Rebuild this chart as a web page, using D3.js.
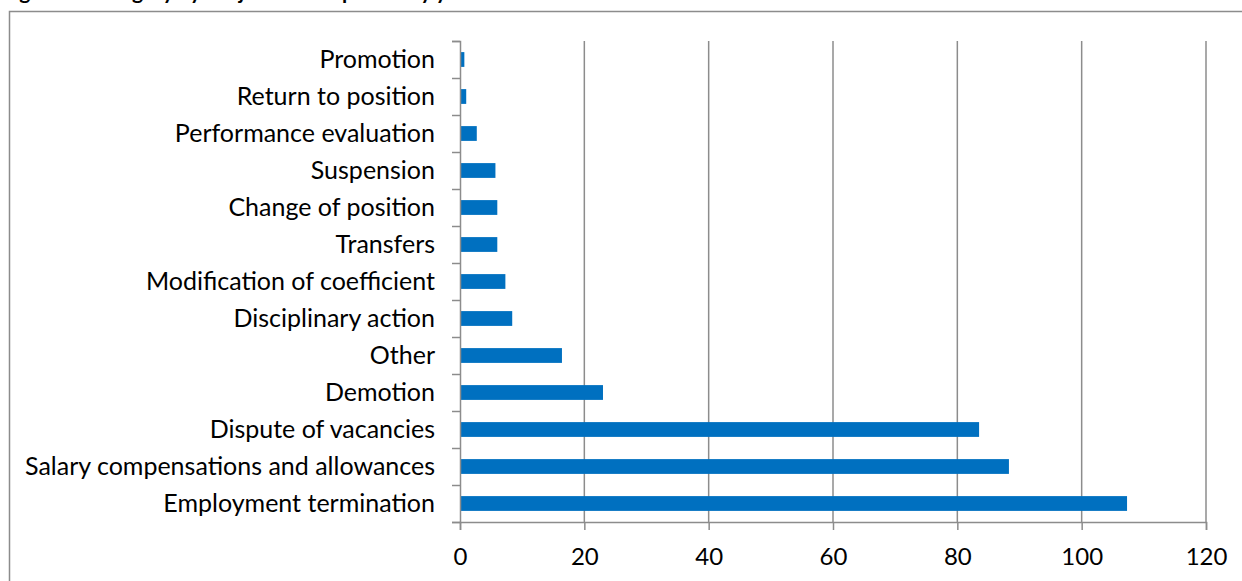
<!DOCTYPE html>
<html>
<head>
<meta charset="utf-8">
<script src="https://cdn.jsdelivr.net/npm/d3@7"></script>
<style>
  body { margin: 0; background: #fff; }
  svg { display: block; }
</style>
</head>
<body>
<div id="chart"></div>
<script>
// data, bottom to top order as listed
const categories = ["Employment termination", "Salary compensations and allowances", "Dispute of vacancies",
    "Demotion", "Other", "Disciplinary action", "Modification of coefficient", "Transfers",
    "Change of position", "Suspension", "Performance evaluation", "Return to position", "Promotion"];
const values = [107.3, 88.3, 83.5, 23, 16.4, 8.4, 7.3, 6, 6, 5.7, 2.7, 1, 0.7];
const xTicks = [0, 20, 40, 60, 80, 100, 120];

const W = 1242, H = 581;
const margin = {top: 41, right: 36, bottom: 59, left: 460};
const width = W - margin.left - margin.right,
    height = H - margin.top - margin.bottom;

const root = d3.select("#chart").append("svg")
    .attr("width", W)
    .attr("height", H);

// title, mostly cut off at the top edge
root.append("text")
    .attr("x", 2).attr("y", -1)
    .style("font", "bold 21px Lato, sans-serif")
    .text("Figure 6: Category by subject of complaints by year");

// chart frame
root.append("rect")
    .attr("x", 9.5).attr("y", 11.5)
    .attr("width", 1300).attr("height", 700)
    .attr("fill", "none")
    .attr("stroke", "#8c8c8c")
    .attr("stroke-width", 1.5);

const svg = root.append("g")
    .attr("transform", `translate(${margin.left},${margin.top})`);

const x = d3.scaleLinear().domain([0, 120]).range([0, width]);
const y = d3.scaleBand()
    .domain(categories.slice().reverse())
    .range([0, height])
    .paddingInner(0.6)
    .paddingOuter(0.3);

// gridlines
svg.append("g")
    .selectAll("line")
    .data(xTicks.slice(1))
    .join("line")
    .attr("x1", d => x(d)).attr("x2", d => x(d))
    .attr("y1", 0).attr("y2", height)
    .attr("stroke", "#8c8c8c")
    .attr("stroke-width", 1.5);

// bars
svg.append("g")
    .selectAll("rect")
    .data(categories.map((c, i) => ({cat: c, v: values[i]})))
    .join("rect")
    .attr("x", x(0))
    .attr("y", d => y(d.cat))
    .attr("width", d => x(d.v) - x(0))
    .attr("height", y.bandwidth())
    .attr("fill", "#0070C0");

// x axis
const xAxis = svg.append("g")
    .attr("transform", `translate(0,${height})`)
    .call(d3.axisBottom(x).tickValues(xTicks).tickSize(8).tickPadding(18));

// y axis: ticks at band boundaries
const yBound = d3.scaleLinear().domain([0, categories.length]).range([0, height]);
const yAxis = svg.append("g")
    .call(d3.axisLeft(yBound).tickValues(d3.range(categories.length + 1)).tickSize(8).tickFormat(""));

[xAxis, yAxis].forEach(a => {
    a.select(".domain").attr("stroke", "#8c8c8c").attr("stroke-width", 1.5);
    a.selectAll(".tick line").attr("stroke", "#8c8c8c").attr("stroke-width", 1.5);
});
xAxis.selectAll("text")
    .style("font", "24px Lato, sans-serif")
    .attr("fill", "#000");

// category labels
svg.append("g")
    .selectAll("text")
    .data(categories)
    .join("text")
    .attr("x", -25)
    .attr("y", d => y(d) + y.bandwidth() / 2)
    .attr("dy", "0.35em")
    .attr("text-anchor", "end")
    .style("font", "25px Lato, sans-serif")
    .attr("fill", "#000")
    .text(d => d);
</script>
</body>
</html>
